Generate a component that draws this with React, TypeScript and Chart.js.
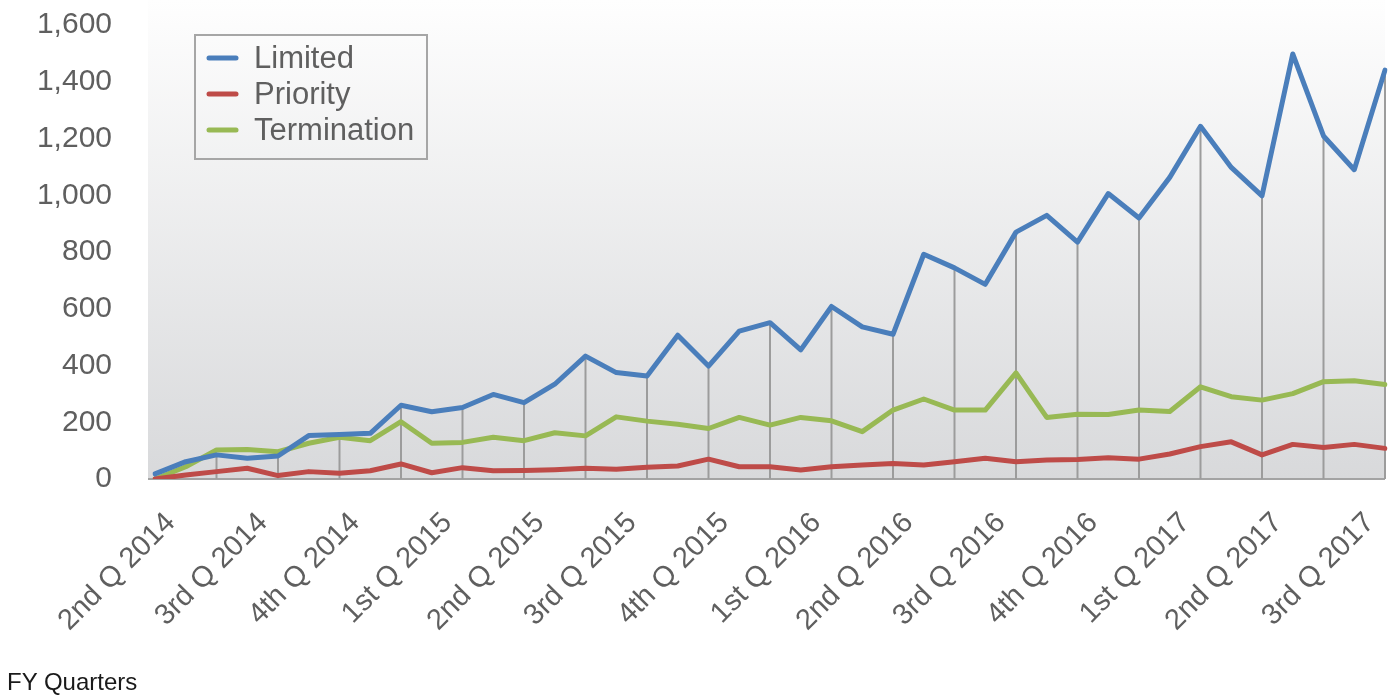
import React, { useEffect, useRef } from 'react';
import { Chart, registerables } from 'chart.js';

Chart.register(...registerables);

const quarterLabels = [
  '2nd Q 2014', '3rd Q 2014', '4th Q 2014', '1st Q 2015', '2nd Q 2015', '3rd Q 2015', '4th Q 2015',
  '1st Q 2016', '2nd Q 2016', '3rd Q 2016', '4th Q 2016', '1st Q 2017', '2nd Q 2017', '3rd Q 2017',
];

const limited = [
  18, 61, 85, 73, 81, 153, 157, 161, 260, 237,
  252, 298, 269, 334, 433, 375, 363, 507, 398, 521,
  551, 455, 608, 536, 510, 792, 744, 686, 870, 929,
  835, 1006, 920, 1063, 1243, 1098, 998, 1498, 1209, 1090,
  1441,
];

const priority = [
  0, 14, 26, 38, 12, 26, 20, 29, 53, 22,
  40, 29, 30, 33, 38, 34, 41, 46, 70, 43,
  43, 32, 43, 49, 55, 49, 61, 73, 61, 67,
  69, 75, 70, 88, 114, 131, 85, 122, 111, 122,
  108,
];

const termination = [
  0, 43, 102, 104, 96, 126, 147, 135, 202, 126,
  129, 147, 135, 163, 152, 219, 204, 193, 178, 217,
  190, 217, 205, 167, 243, 282, 243, 243, 374, 217,
  228, 227, 243, 238, 325, 290, 278, 301, 343, 346,
  333,
];

// one category per monthly point; the quarter label sits on every third point
const categories = limited.map((_, i) => (i % 3 === 1 ? quarterLabels[(i - 1) / 3] : ''));

const FONT = 'Liberation Sans';
const TEXT = '#5f5f5f';

const backgroundPlugin = {
  id: 'bgPlot',
  beforeDraw(chart: any) {
    const { ctx, chartArea, width, height } = chart;
    ctx.save();
    ctx.fillStyle = '#ffffff';
    ctx.fillRect(0, 0, width, height);
    const left = chartArea.left - 7;
    const g = ctx.createLinearGradient(0, 0, 0, chartArea.bottom);
    g.addColorStop(0, '#fefefe');
    g.addColorStop(1, '#d8d9db');
    ctx.fillStyle = g;
    ctx.fillRect(left, 0, chartArea.right - left, chartArea.bottom);
    ctx.strokeStyle = '#a3a3a3';
    ctx.lineWidth = 2;
    ctx.beginPath();
    ctx.moveTo(left, chartArea.bottom);
    ctx.lineTo(chartArea.right, chartArea.bottom);
    ctx.stroke();
    ctx.restore();
  },
};

const dropLinePlugin = {
  id: 'dropLines',
  beforeDatasetsDraw(chart: any) {
    const { ctx } = chart;
    const xs = chart.scales.x;
    const ys = chart.scales.y;
    const vals = chart.data.datasets[0].data as number[];
    ctx.save();
    ctx.strokeStyle = '#9c9c9c';
    ctx.lineWidth = 2;
    vals.forEach((v, i) => {
      if (i % 2 !== 0) return;
      const x = xs.getPixelForValue(i);
      ctx.beginPath();
      ctx.moveTo(x, ys.getPixelForValue(v));
      ctx.lineTo(x, ys.getPixelForValue(0));
      ctx.stroke();
    });
    ctx.restore();
  },
};

const legendPlugin = {
  id: 'boxLegend',
  afterDatasetsDraw(chart: any) {
    const { ctx } = chart;
    const bx = 195, by = 35, bw = 232, bh = 124;
    ctx.save();
    ctx.strokeStyle = '#a6a6a6';
    ctx.lineWidth = 2;
    ctx.strokeRect(bx, by, bw, bh);
    ctx.font = `31px "${FONT}"`;
    ctx.textBaseline = 'middle';
    ctx.textAlign = 'left';
    chart.data.datasets.forEach((ds: any, i: number) => {
      const y = 58 + i * 36;
      ctx.strokeStyle = ds.borderColor;
      ctx.lineWidth = 5;
      ctx.lineCap = 'round';
      ctx.beginPath();
      ctx.moveTo(209, y);
      ctx.lineTo(236, y);
      ctx.stroke();
      ctx.fillStyle = TEXT;
      ctx.fillText(ds.label, 254, y + 1);
    });
    ctx.restore();
  },
};

const zeroPad = (s: any) => {
  s.paddingLeft = 0;
  s.paddingRight = 0;
  s.paddingTop = 0;
  s.paddingBottom = 0;
};

export default function App() {
  const ref = useRef<HTMLCanvasElement>(null);

  useEffect(() => {
    const line = (label: string, data: number[], color: string) => ({
      label,
      data,
      borderColor: color,
      backgroundColor: color,
      borderWidth: 5,
      pointRadius: 0,
      tension: 0,
      borderJoinStyle: 'round' as const,
      borderCapStyle: 'round' as const,
      fill: false,
    });

    const chart = new Chart(ref.current!, {
      type: 'line',
      data: {
        labels: categories,
        datasets: [
          line('Limited', limited, '#4a7ebb'),
          line('Priority', priority, '#be4b48'),
          line('Termination', termination, '#98b954'),
        ],
      },
      options: {
        responsive: false,
        animation: false,
        devicePixelRatio: 1,
        layout: { padding: { left: 0, top: 25, right: 8, bottom: 0 } },
        plugins: {
          legend: { display: false },
          tooltip: { enabled: false },
          title: { display: false },
        },
        scales: {
          x: {
            type: 'category',
            offset: false,
            grid: { display: false, drawTicks: false },
            border: { display: false },
            afterFit: (s: any) => { s.height = 697 - 479; zeroPad(s); },
            ticks: {
              autoSkip: false,
              maxRotation: 45,
              minRotation: 45,
              padding: 27,
              labelOffset: -15,
              color: TEXT,
              font: { family: FONT, size: 29 },
              callback: (_v: any, i: number) => categories[i],
            },
          },
          y: {
            min: 0,
            max: 1600,
            grid: { display: false, drawTicks: false },
            border: { display: false },
            afterFit: (s: any) => { s.width = 155; zeroPad(s); },
            ticks: {
              stepSize: 200,
              padding: 43,
              color: TEXT,
              font: { family: FONT, size: 30 },
              callback: (v: any) => Number(v).toLocaleString('en-US'),
            },
          },
        },
      },
      plugins: [backgroundPlugin, dropLinePlugin, legendPlugin],
    });
    return () => chart.destroy();
  }, []);

  return (
    <div style={{ position: 'fixed', left: 0, top: 0, width: 1393, height: 697, background: '#fff', overflow: 'hidden' }}>
      <canvas ref={ref} width={1393} height={697} style={{ position: 'absolute', left: 0, top: 0, width: 1393, height: 697 }} />
      <div style={{ position: 'absolute', left: 7, top: 668, fontFamily: FONT, fontSize: 24, color: '#1a1a1a', lineHeight: '28px' }}>
        FY Quarters
      </div>
    </div>
  );
}
